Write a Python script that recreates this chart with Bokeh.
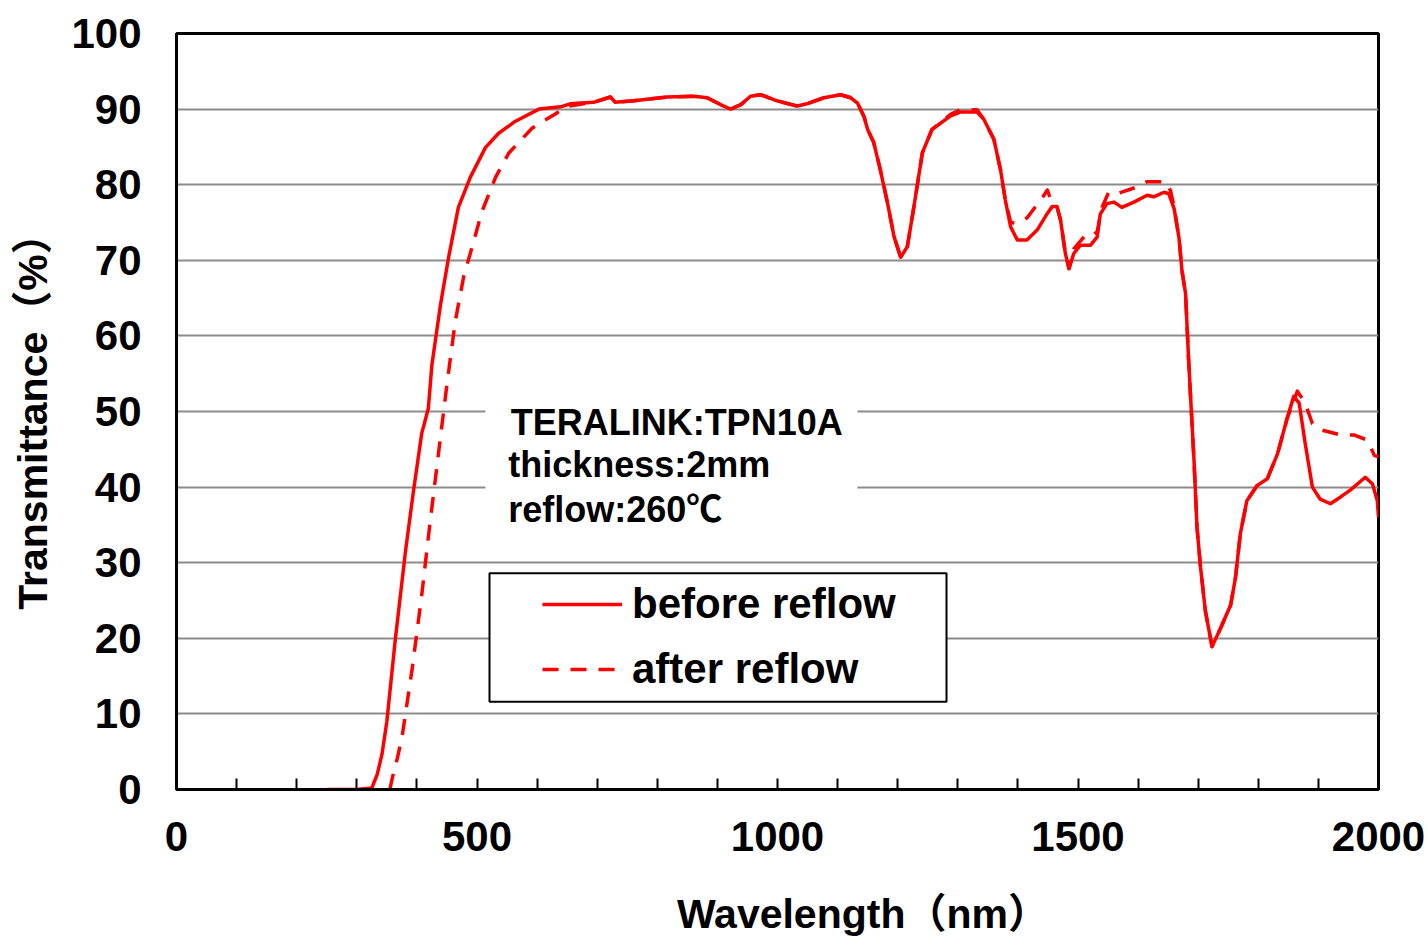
from bokeh.plotting import figure
from bokeh.models import (Range1d, Legend, LegendItem, Label, BoxAnnotation,
                          FixedTicker)
from bokeh.embed import file_html
from bokeh.resources import INLINE

# ---------------- data ----------------
before_nm = [250, 300, 325, 334, 342, 350, 364, 381, 394, 408, 419, 425, 439, 453, 469,
             489, 514, 536, 564, 603, 639, 655, 694, 722, 730, 761, 816, 861, 883, 905,
             922, 939, 955, 972, 999, 1033, 1049, 1077, 1105, 1122, 1133, 1144, 1150,
             1160, 1171, 1183, 1194, 1205, 1216, 1227, 1241, 1257, 1288, 1304, 1332,
             1343, 1360, 1371, 1379, 1388, 1399, 1415, 1432, 1449, 1457, 1465, 1471,
             1479, 1485, 1493, 1504, 1521, 1532, 1537, 1548, 1560, 1573, 1593, 1615,
             1626, 1643, 1651, 1660, 1668, 1673, 1679, 1684, 1687, 1693, 1698, 1704,
             1712, 1723, 1737, 1754, 1762, 1770, 1781, 1798, 1815, 1832, 1848, 1859,
             1868, 1878, 1890, 1903, 1920, 1937, 1953, 1978, 1990, 1998, 2000]
before_T = [0, 0, 0.2, 2, 4.7, 9, 19.8, 31.5, 39.3, 47.1, 50.4, 56.2, 64, 70.5, 77,
            81, 84.9, 86.8, 88.4, 90, 90.3, 90.7, 90.9, 91.6, 90.9, 91.1, 91.6, 91.7, 91.5, 90.6,
            90, 90.6, 91.7, 91.9, 91.1, 90.4, 90.7, 91.5, 91.9, 91.5, 90.8, 89, 87.3,
            85.6, 82, 77.6, 73.1, 70.4, 71.8, 77.1, 84.2, 87.3, 89.1, 89.6, 89.6,
            88.7, 86, 82, 78, 74.4, 72.7, 72.7, 74, 76.2, 77.1, 77.1, 75.3,
            70.9, 68.9, 70.9, 72, 72, 73.1, 76.1, 77.5, 77.7, 77, 77.7, 78.6,
            78.4, 79, 78.8, 76.8, 73, 68.6, 65.6, 56.9, 52.4, 43.6, 34.7, 29.3,
            23.6, 18.9, 21.3, 24.4, 28, 33.8, 38.2, 40.2, 41.1, 44.4, 49.1, 52,
            51.1, 45.8, 40, 38.4, 37.8, 38.7, 39.6, 41.3, 40.4, 38.2, 36]

after_nm = [355, 359, 367, 375, 392, 408, 422, 436, 450, 464, 478, 492, 508, 531, 553,
            592, 631, 653, 694, 722, 730, 761, 816, 861, 883, 905, 922, 939, 955, 972,
            999, 1033, 1049, 1077, 1105, 1122, 1133, 1144, 1150, 1160, 1171, 1183, 1194,
            1205, 1216, 1227, 1241, 1257, 1288, 1304, 1332, 1343, 1360, 1371, 1379,
            1388, 1399, 1415, 1440, 1449, 1457, 1465, 1471, 1479, 1485, 1493, 1510,
            1521, 1532, 1540, 1551, 1565, 1598, 1615, 1646, 1654, 1660, 1668, 1673,
            1679, 1684, 1687, 1693, 1698, 1704, 1712, 1723, 1737, 1754, 1762, 1770,
            1781, 1798, 1815, 1832, 1848, 1865, 1878, 1890, 1903, 1937, 1959, 1982,
            1993, 2000]
after_T = [0, 1.5, 4, 6.8, 15.9, 25.7, 35.4, 44.5, 53.6, 62, 67.9, 71.8, 76.4, 81, 84.2,
           87.5, 89.4, 90.4, 90.9, 91.6, 90.9, 91.1, 91.6, 91.7, 91.5, 90.6, 90, 90.6, 91.7, 91.9,
           91.1, 90.4, 90.7, 91.5, 91.9, 91.5, 90.8, 89, 87.3, 85.6, 82, 77.6, 73.1,
           70.4, 71.8, 77.1, 84.2, 87.3, 89.3, 89.9, 89.9, 88.7, 86, 82, 78,
           75, 74.9, 75.6, 78.2, 79.3, 77.5, 77.1, 75.3, 70.9, 68.9, 71.5, 73.1,
           73, 73.8, 77, 79, 78.8, 79.7, 80.4, 80.4, 79.2, 77, 73, 68.6,
           65.6, 56.9, 52.4, 43.6, 34.7, 29.3, 23.6, 18.9, 21.3, 24.4, 28, 33.8,
           38.2, 40.2, 41.1, 44.4, 49.1, 52.7, 51.1, 48.4, 47.6, 46.9, 46.9, 46.2,
           44.2, 44]

x_ticks = [0, 500, 1000, 1500, 2000]
x_minor_ticks = [100, 200, 300, 400, 600, 700, 800, 900, 1100, 1200, 1300, 1400,
                 1600, 1700, 1800, 1900]
y_ticks = [0, 10, 20, 30, 40, 50, 60, 70, 80, 90, 100]

series_names = ["before reflow", "after reflow"]
note_lines = ["TERALINK:TPN10A", "thickness:2mm", "reflow:260\u2103"]
x_title = "Wavelength\uff08nm\uff09"
y_title = "Transmittance\uff08%\uff09"

FONT = "Liberation Sans, Noto Sans CJK SC"
RED = "#ff0000"

p = figure(width=1428, height=940, output_backend="svg", toolbar_location=None,
           x_range=Range1d(0, 2000), y_range=Range1d(0, 100),
           min_border_left=176, min_border_right=50, min_border_top=33,
           min_border_bottom=151)
p.background_fill_color = "white"
p.border_fill_color = "white"
p.outline_line_color = "black"
p.outline_line_width = 3

# grid
p.xgrid.grid_line_color = None
p.ygrid.grid_line_color = "#8c8c8c"
p.ygrid.grid_line_width = 2
p.ygrid.ticker = FixedTicker(ticks=y_ticks)

# x axis
xa = p.xaxis[0]
xa.ticker = FixedTicker(ticks=x_ticks, minor_ticks=x_minor_ticks)
xa.axis_line_color = "black"
xa.axis_line_width = 3
xa.major_tick_in = 11
xa.major_tick_out = 0
xa.minor_tick_in = 11
xa.minor_tick_out = 0
xa.major_tick_line_color = "black"
xa.minor_tick_line_color = "black"
xa.major_tick_line_width = 2
xa.minor_tick_line_width = 2
xa.major_label_standoff = 32
xa.major_label_text_font = FONT
xa.major_label_text_font_style = "bold"
xa.major_label_text_font_size = "42px"
xa.major_label_text_color = "black"
# the reference title sits right of the frame centre: pad with no-break spaces
xa.axis_label = "\u00a0" * 15 + x_title
xa.axis_label_text_font = FONT
xa.axis_label_text_font_style = "bold"
xa.axis_label_text_font_size = "41px"
xa.axis_label_text_color = "black"
xa.axis_label_standoff = 37

# y axis
ya = p.yaxis[0]
ya.ticker = FixedTicker(ticks=y_ticks)
ya.axis_line_color = "black"
ya.axis_line_width = 3
ya.major_tick_in = 0
ya.major_tick_out = 0
ya.minor_tick_in = 0
ya.minor_tick_out = 0
ya.major_label_standoff = 35
ya.major_label_text_font = FONT
ya.major_label_text_font_style = "bold"
ya.major_label_text_font_size = "42px"
ya.major_label_text_color = "black"
ya.axis_label = y_title
ya.axis_label_text_font = FONT
ya.axis_label_text_font_style = "bold"
ya.axis_label_text_font_size = "41px"
ya.axis_label_text_color = "black"
ya.axis_label_standoff = 12

# curves
r1 = p.line(before_nm, before_T, line_color=RED, line_width=3.5, line_join="round")
r2 = p.line(after_nm, after_T, line_color=RED, line_width=3.5, line_dash="16 12",
            line_join="round")

# white area behind the note text
p.add_layout(BoxAnnotation(left=514, right=1133, bottom=33.5, top=52,
                           fill_color="white", fill_alpha=1, line_color=None))
# legend frame
p.add_layout(BoxAnnotation(left=520.8, right=1281.2, bottom=11.6, top=28.6,
                           fill_color="white", fill_alpha=1, line_color="black",
                           line_alpha=1, line_width=2))

# note text
note_x = [556, 552, 552]
note_y = [48.5, 43.0, 37.0]
for t, nx, ny in zip(note_lines, note_x, note_y):
    p.add_layout(Label(x=nx, y=ny, text=t, text_font=FONT, text_font_style="bold",
                       text_font_size="36px", text_color="black",
                       text_baseline="middle", text_align="left"))

legend = Legend(items=[LegendItem(label=series_names[0], renderers=[r1]),
                       LegendItem(label=series_names[1], renderers=[r2])],
                location=(356, 86), orientation="vertical", padding=10, spacing=17,
                margin=0, glyph_width=80, glyph_height=48, label_height=48,
                label_standoff=10, label_text_font=FONT, label_text_font_style="bold",
                label_text_font_size="42px", label_text_color="black",
                background_fill_alpha=0, border_line_alpha=0)
p.add_layout(legend)

open("out.html", "w").write(file_html(p, INLINE))
